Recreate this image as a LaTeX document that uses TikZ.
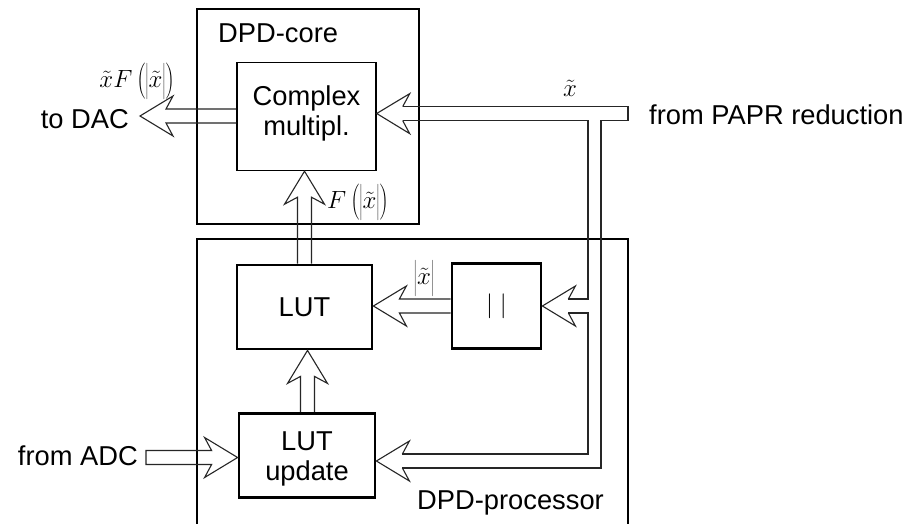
\documentclass[tikz,border=0pt]{standalone}
\usepackage{fontspec}
\setmainfont{Liberation Sans}
\usetikzlibrary{calc}
\newcommand\txtsz{\fontsize{27.3}{30}\selectfont}
\newcommand\mathsz{\fontsize{26.5}{28}\selectfont}
\newcommand\strutm{\vrule height 23pt depth 10pt width 0pt}
% full fat arrow: #1 start, #2 tip
\newcommand\fatarrow[2]{%
  \path ($(#2)!26pt!(#1)$) coordinate (facc) ($(#2)!33pt!(#1)$) coordinate (fabb);
  \draw[pipe] ($(#1)!7pt!90:(#2)$) -- ($(facc)!7pt!90:(#2)$) -- ($(fabb)!20pt!90:(#2)$)
    -- (#2) -- ($(fabb)!20pt!-90:(#2)$) -- ($(facc)!7pt!-90:(#2)$) -- ($(#1)!7pt!-90:(#2)$);}
% closed-back fat arrow
\newcommand\fatarrowc[2]{%
  \path ($(#2)!26pt!(#1)$) coordinate (facc) ($(#2)!33pt!(#1)$) coordinate (fabb);
  \draw[pipe] ($(#1)!7pt!-90:(#2)$) -- ($(#1)!7pt!90:(#2)$) -- ($(facc)!7pt!90:(#2)$) -- ($(fabb)!20pt!90:(#2)$)
    -- (#2) -- ($(fabb)!20pt!-90:(#2)$) -- ($(facc)!7pt!-90:(#2)$) -- cycle;}
% head only: #1 a point behind the tip, #2 tip
\newcommand\fathead[2]{%
  \path ($(#2)!26pt!(#1)$) coordinate (facc) ($(#2)!33pt!(#1)$) coordinate (fabb);
  \draw[pipe] ($(facc)!7pt!90:(#2)$) -- ($(fabb)!20pt!90:(#2)$)
    -- (#2) -- ($(fabb)!20pt!-90:(#2)$) -- ($(facc)!7pt!-90:(#2)$);}
\begin{document}
\begin{tikzpicture}[x=1pt,y=-1pt,
  pipe/.style={line width=1.1pt, draw=black!85, line join=miter},
  thinbox/.style={draw, line width=1.4pt, inner sep=0pt},
  thickbox/.style={draw, line width=2.8pt, inner sep=0pt, font=\txtsz},
  txt/.style={inner sep=0pt, font=\txtsz},
  mth/.style={inner sep=0pt, font=\mathsz}]
\useasboundingbox (0,0) rectangle (921,523);
\fill[white] (0,0) rectangle (921,523);

% boxes
\node[thinbox, minimum width=222pt, minimum height=215pt] (core) at (308,116.5) {};
\node[thinbox, minimum width=139pt, minimum height=108pt] (cm) at (306.5,116.5) {};
\node[txt, align=center, yshift=3pt] (cmlabel) at (cm.center) {Complex\\multipl.};
\draw[line width=1.4pt] (197,530) -- (197,239) -- (628,239) -- (628,530);
\node[thickbox, minimum width=135pt, minimum height=84pt] (lut) at (304.5,307) {LUT};
\node[thickbox, minimum width=89pt, minimum height=85pt, font=\mathsz] (abs) at (496.5,306) {$|\;|$};
\node[thickbox, minimum width=136pt, minimum height=84pt] (upd) at (307,455.5) {};
\node[txt, align=center, yshift=-3pt] (updlabel) at (upd.center) {LUT\\update};

% texts
\node[txt, anchor=base west] (coretitle) at (218,42) {DPD-core};
\node[txt, anchor=base west] (proctitle) at (417,509) {DPD-processor};
\node[txt, anchor=base east] (dac) at (129,128) {to DAC};
\node[txt, anchor=base west] (papr) at (649,124) {from PAPR reduction};
\node[txt, anchor=base east] (adc) at (138,465) {from ADC};

% math labels
\node[mth] (lout) at (137,81) {$\tilde{x}F\left(\left|\strutm\tilde{x}\right|\right)$};
\node[mth, anchor=west] (lF) at (327,202) {$F\left(\left|\strutm\tilde{x}\right|\right)$};
\node[mth] (labs) at (424,278) {$\left|\strutm\tilde{x}\right|$};
\node[mth] (lx) at (570,88) {$\tilde{x}$};

% tips and free ends
\coordinate (tDAC) at (140,116);
\coordinate (sDAC) at ($(cm.west)+(0,-0.5)$);
\coordinate (tCM) at ($(cm.east)+(0,-3)$);
\coordinate (tABS) at ($(abs.east)+(0,0)$);
\coordinate (tUPDr) at ($(upd.east)+(0,5.5)$);
\coordinate (tLUTr) at ($(lut.east)+(0,-1)$);
\coordinate (sABS) at ($(abs.west)+(0,0)$);
\coordinate (tUPDl) at ($(upd.west)+(0,2)$);
\coordinate (sADC) at (146,457.5);
\coordinate (tLUTb) at ($(lut.south)+(3,0)$);
\coordinate (sUPD) at ($(upd.north)+(0.5,0)$);
\coordinate (tCMb) at ($(cm.south)+(-2,0)$);
\coordinate (sLUT) at ($(lut.north)+(0,0)$);

% straight arrows
\fatarrow{sDAC}{tDAC}
\fatarrow{sABS}{tLUTr}
\fatarrowc{sADC}{tUPDl}
\fatarrow{sUPD}{tLUTb}
\fatarrow{sLUT}{tCMb}

% branching input pipe
\fathead{papr.west}{tCM}
\fathead{$(tABS)+(30,0)$}{tABS}
\fathead{$(tUPDr)+(30,0)$}{tUPDr}
\draw[pipe] ($(tCM)+(26,-7)$) -- (628,106.5) -- (628,120.5) -- (601,120.5) -- (601,468) -- ($(tUPDr)+(26,7)$);
\draw[pipe] ($(tCM)+(26,7)$) -- (588,120.5) -- (588,299) -- ($(tABS)+(26,-7)$);
\draw[pipe] ($(tABS)+(26,7)$) -- (588,313) -- (588,454) -- ($(tUPDr)+(26,-7)$);
\end{tikzpicture}
\end{document}
